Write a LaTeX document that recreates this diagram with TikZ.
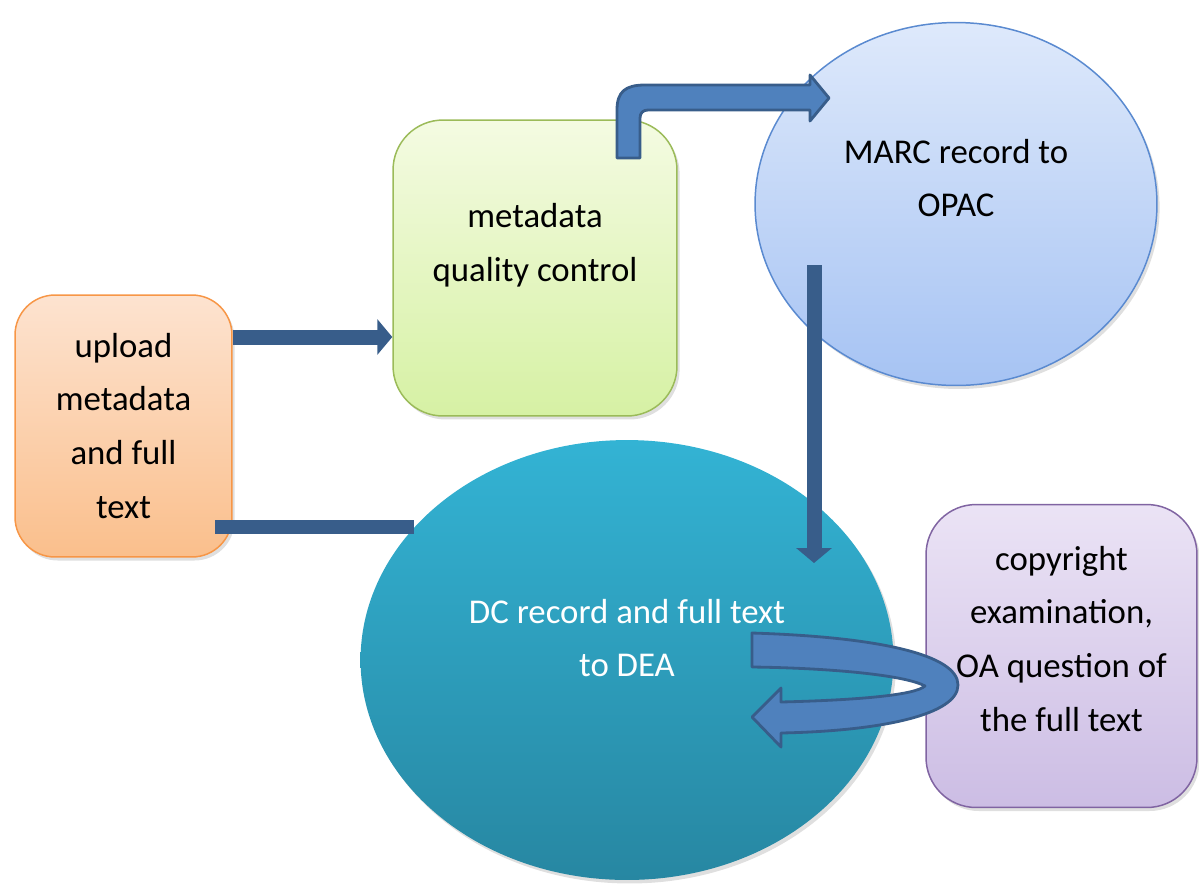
\documentclass[tikz,border=0pt]{standalone}
\usepackage{fontspec}
\setmainfont{Carlito}
\usetikzlibrary{arrows.meta}
\usetikzlibrary{shapes.geometric}
\usetikzlibrary{shadows}

\definecolor{upline}{HTML}{F79646}
\definecolor{uptop}{HTML}{FDE3D0}
\definecolor{upbot}{HTML}{FABF8C}
\definecolor{qcline}{HTML}{9BBB59}
\definecolor{qctop}{HTML}{F4FBE2}
\definecolor{qcbot}{HTML}{D6F1A4}
\definecolor{marcline}{HTML}{5A8AD0}
\definecolor{marctop}{HTML}{DEE9FB}
\definecolor{marcbot}{HTML}{A6C3F3}
\definecolor{dctop}{HTML}{33B3D4}
\definecolor{dcbot}{HTML}{2787A2}
\definecolor{cpline}{HTML}{8064A2}
\definecolor{cptop}{HTML}{EBE3F5}
\definecolor{cpbot}{HTML}{CCBDE4}
\definecolor{barcol}{HTML}{385D8A}
\definecolor{blkfill}{HTML}{4F81BD}

\begin{document}
\begin{tikzpicture}[x=0.02cm,y=-0.02cm,every node/.style={font=\fontsize{19.8}{30.7}\selectfont,align=center},
	shad/.style={drop shadow={opacity=0.25,shadow xshift=1.5pt,shadow yshift=-2pt}},
	box/.style={rectangle,draw,line width=0.85pt,inner sep=0pt,shad},
	oval/.style={ellipse,inner sep=0pt,shad},
	bar/.style={draw=barcol,line width=0.3cm,-{Triangle[length=0.3cm,width=0.7cm]}},
	flatbar/.style={draw=barcol,line width=0.28cm},
	blk/.style={fill=blkfill,draw=barcol,line width=1.6pt,line join=round}]
	
	\useasboundingbox (0,0) rectangle (1199,883);
	
	\node[box,draw=upline,top color=uptop,bottom color=upbot,rounded corners=0.8cm,
		minimum width=4.34cm,minimum height=5.24cm] (up) at (123.5,426) {upload\\metadata\\and full\\text};
	\node[box,draw=qcline,top color=qctop,bottom color=qcbot,rounded corners=1cm,
		minimum width=5.68cm,minimum height=5.92cm,
		label={[yshift=0.46cm]center:{metadata\\quality control}}] (qc) at (535,268) {};
	\node[oval,draw=marcline,line width=0.85pt,top color=marctop,bottom color=marcbot,
		minimum width=8.04cm,minimum height=7.26cm,
		label={[yshift=0.52cm]center:{MARC record to\\OPAC}}] (marc) at (956,204) {};
	\node[oval,top color=dctop,bottom color=dcbot,
		minimum width=10.66cm,minimum height=8.8cm,
		label={[text=white,yshift=0.44cm]center:{DC record and full text\\to DEA}}] (dc) at (627,660) {};
	\node[box,draw=cpline,top color=cptop,bottom color=cpbot,rounded corners=1cm,
		minimum width=5.42cm,minimum height=6.06cm,
		label={[yshift=0.34cm]center:{copyright\\examination,\\OA question of\\the full text}}] (cp) at (1061.5,656) {};
	
	\draw[bar] (up.east |- 0,337) -- (qc.west |- 0,337);
	\draw[flatbar] (dc.148 -| 215,0) -- (dc.148);
	\draw[bar] (814,265) -- (814,563);
	
	\draw[blk] (617,158) -- (617,110) .. controls (617,92) and (625,85) .. (645,85) -- (810,85)
		-- (810,75) -- (829,98) -- (810,121) -- (810,110) -- (648,110)
		.. controls (643,110) and (640,113) .. (640,118) -- (640,158) -- cycle;
	
	\draw[blk] (752,633) .. controls (880,637) and (958,655) .. (958,685)
		.. controls (958,715) and (880,731) .. (781,733) -- (781,747) -- (752,717) -- (781,688)
		-- (781,702) .. controls (860,700) and (915,695) .. (925,686)
		.. controls (905,675) and (830,668) .. (752,667) -- cycle;
	
\end{tikzpicture}
\end{document}
